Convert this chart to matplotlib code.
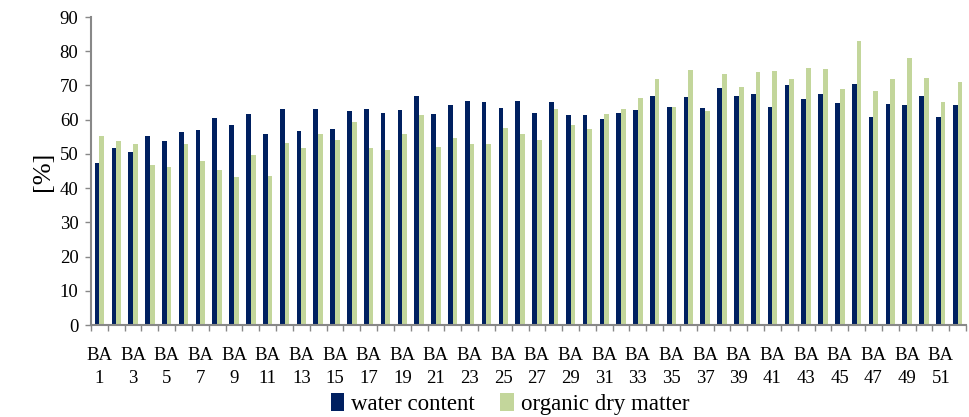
import matplotlib
matplotlib.use("Agg")
import matplotlib.pyplot as plt
import numpy as np

categories = [f"BA {i}" for i in range(1, 53)]
water_content = [47.2, 51.8, 50.5, 55.1, 53.7, 56.5, 57.1, 60.6, 58.3, 61.7,
                 55.7, 63.1, 56.6, 63.1, 57.3, 62.4, 63.0, 61.9, 62.7, 66.8,
                 61.7, 64.2, 65.5, 65.3, 63.4, 65.6, 62.0, 65.2, 61.4, 61.3,
                 60.2, 61.9, 62.8, 67.0, 63.6, 66.5, 63.3, 69.2, 66.9, 67.6,
                 63.8, 70.0, 66.0, 67.4, 64.8, 70.5, 60.7, 64.5, 64.3, 67.0,
                 60.8, 64.3]
organic_dry_matter = [55.2, 53.8, 52.9, 46.8, 46.2, 52.9, 47.8, 45.3, 43.2, 49.7,
                      43.5, 53.3, 51.8, 55.7, 54.1, 59.2, 51.8, 51.2, 55.7, 61.3,
                      52.0, 54.7, 52.8, 53.0, 57.6, 55.7, 54.0, 63.2, 58.4, 57.3,
                      61.6, 63.2, 66.2, 72.0, 63.8, 74.4, 62.5, 73.3, 69.6, 73.8,
                      74.2, 71.9, 75.1, 74.7, 68.9, 83.0, 68.5, 71.8, 78.0, 72.3,
                      65.1, 71.0]
yticks = list(range(0, 91, 10))

plt.rcParams['font.family'] = ['Liberation Serif', 'DejaVu Serif']

fig = plt.figure(figsize=(9.69, 4.17), dpi=100)
ax = fig.add_axes([91/969, (417-325)/417, (966-91)/969, (325-17)/417])

x = np.arange(len(categories))
w = 0.28
navy = '#002060'
green = '#C3D69B'
ax.bar(x - w/2, water_content, width=w, color=navy, label='water content')
ax.bar(x + w/2, organic_dry_matter, width=w, color=green, label='organic dry matter')

ax.set_xlim(-0.5, len(categories) - 0.5)
ax.set_ylim(0, 90)
ax.set_yticks(yticks)
ax.set_yticklabels([str(t) for t in yticks], fontsize=13.5)

labels = [c.replace(' ', '\n') if i % 2 == 0 else '' for i, c in enumerate(categories)]
ax.set_xticks(x)
ax.set_xticklabels(labels, fontsize=13.5, linespacing=1.45)
ax.tick_params(axis='x', length=0, pad=16)
ax.set_xticks(np.arange(-0.5, len(categories), 1.0), minor=True)
ax.tick_params(axis='x', which='minor', length=4, color='#888888', width=1)
ax.tick_params(axis='y', length=4, color='#888888', width=1, pad=5)

for s in ['top', 'right']:
    ax.spines[s].set_visible(False)
for s in ['left', 'bottom']:
    ax.spines[s].set_color('#888888')
    ax.spines[s].set_linewidth(1.5)

ax.set_ylabel('[%]', fontsize=19, labelpad=4)

fig.legend(loc='center', bbox_to_anchor=(510/969, 1 - 404/417), ncol=2, frameon=False,
           fontsize=16.5, handlelength=0.6, handleheight=0.8, handletextpad=0.3,
           columnspacing=1.1)

fig.savefig('out.png', dpi=100)
